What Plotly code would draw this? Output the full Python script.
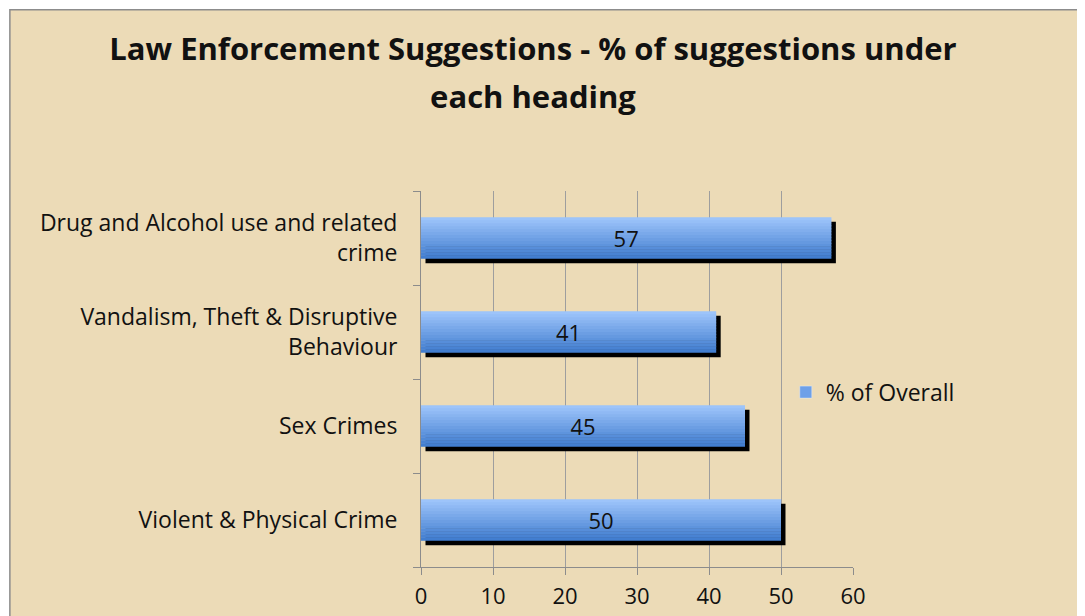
import plotly.graph_objects as go

# ---- data ----
categories = [
    "Violent & Physical Crime",
    "Sex Crimes",
    "Vandalism, Theft & Disruptive<br>Behaviour",
    "Drug and Alcohol use and related<br>crime",
]
values = [50, 45, 41, 57]
series_name = "% of Overall"
title_lines = ["Law Enforcement Suggestions - % of suggestions under", "each heading"]
x_ticks = [0, 10, 20, 30, 40, 50, 60]

# ---- style / layout geometry (page body has an 8px margin) ----
S = 8
W, H = 1085 - S, 616 - S
ML = 420.7 - S
MT = 191 - S
plot_right = 853.3 - S
plot_bottom = 566.7 - S
MR = W - plot_right
MB = H - plot_bottom
pw = plot_right - ML
ph = plot_bottom - MT

BG = "#ECDBB7"
FONT = "Open Sans"
TXT = "#111111"
bar_w = 0.44
n_slices = 14
top_rgb = (157, 196, 250)
bot_rgb = (66, 126, 208)
shadow_px = 4.5
shadow_dx = shadow_px * 60 / pw
shadow_dy = shadow_px * 4 / ph

ypos = list(range(len(categories)))

fig = go.Figure()

# shadow
fig.add_trace(go.Bar(
    y=ypos, x=values, base=shadow_dx, orientation="h",
    width=bar_w, offset=-bar_w / 2 - shadow_dy,
    marker=dict(color="black", line=dict(width=0)),
    showlegend=False, hoverinfo="skip",
))

# gradient slices (bottom dark -> top light)
sw = bar_w / n_slices
for i in range(n_slices):
    t = i / (n_slices - 1)
    c = tuple(round(b + (a - b) * t) for a, b in zip(top_rgb, bot_rgb))
    fig.add_trace(go.Bar(
        y=ypos, x=values, orientation="h",
        width=sw * 1.2 if i < n_slices - 1 else sw,
        offset=-bar_w / 2 + i * sw,
        marker=dict(color="rgb(%d,%d,%d)" % c, line=dict(width=0)),
        showlegend=False, hoverinfo="skip",
    ))

# value labels
fig.add_trace(go.Bar(
    y=ypos, x=values, orientation="h", width=bar_w,
    marker=dict(color="rgba(0,0,0,0)", line=dict(width=0)),
    text=[str(v) for v in values], textposition="inside",
    insidetextanchor="middle", constraintext="none",
    textfont=dict(family=FONT, size=22, color=TXT),
    showlegend=False, name=series_name,
))
# legend entry
fig.add_trace(go.Bar(
    y=[None], x=[None], orientation="h", name=series_name,
    marker=dict(color="rgb(110,160,232)"),
    showlegend=True,
))

# background panel with border
fig.add_shape(
    type="rect", xref="paper", yref="paper", layer="below",
    x0=(1 - ML) / pw, x1=2.0,
    y0=-0.5, y1=(plot_bottom - 2) / ph,
    fillcolor=BG, line=dict(color="#8C8C8C", width=1.5),
)

title_html = "<br>".join(
    "<span style='font-size:31px'><b>%s</b></span>" % s for s in title_lines
)

fig.update_layout(
    width=W, height=H,
    margin=dict(l=ML, r=MR, t=MT, b=MB, pad=0),
    paper_bgcolor="white", plot_bgcolor="rgba(0,0,0,0)",
    barmode="overlay",
    title=dict(
        text=title_html,
        x=(533 - S) / W, xanchor="center",
        y=1 - (59.5 - S) / H, yanchor="middle",
        font=dict(family=FONT, size=37, color=TXT),
    ),
    font=dict(family=FONT, size=23, color=TXT),
    legend=dict(
        x=(786 - S - ML) / pw, xanchor="left",
        y=(plot_bottom - (392 - S)) / ph, yanchor="middle",
        bgcolor=BG, font=dict(family=FONT, size=23, color=TXT),
        borderwidth=0,
    ),
    xaxis=dict(
        range=[0, 60], tickvals=x_ticks, ticktext=[str(v) for v in x_ticks],
        showgrid=True, gridcolor="#9E9E9E", gridwidth=1,
        showline=True, linecolor="#8C8C8C", linewidth=1,
        ticks="outside", ticklen=7, tickcolor="#8C8C8C",
        ticklabelstandoff=3, zeroline=False, automargin=False,
        tickfont=dict(family=FONT, size=22, color=TXT),
    ),
    yaxis=dict(
        range=[-0.5, len(categories) - 0.5],
        tickvals=ypos, ticktext=categories, ticks="",
        showgrid=False, zeroline=False, automargin=False,
        showline=True, linecolor="#8C8C8C", linewidth=1,
        ticklabelstandoff=18,
        minor=dict(tickvals=[i - 0.5 for i in range(len(categories) + 1)],
                   ticks="outside", ticklen=7, tickcolor="#8C8C8C", showgrid=False),
        tickfont=dict(family=FONT, size=23, color=TXT),
    ),
)

fig.write_html("out.html")
